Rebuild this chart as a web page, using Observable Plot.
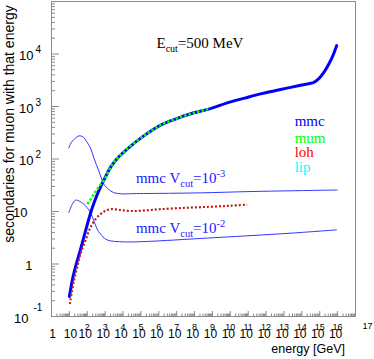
<!DOCTYPE html>
<html><head><meta charset="utf-8">
<script src="https://cdn.jsdelivr.net/npm/d3@7"></script>
<script src="https://cdn.jsdelivr.net/npm/@observablehq/plot@0.6"></script>
<style>html,body{margin:0;padding:0;background:#fff}svg{display:block}</style>
</head><body><div id="chart"></div>
<script>
// ---- data: log10(energy / GeV) and log10(number of secondaries) ----
const mmcLogE = [1.0, 1.2, 1.34, 1.6, 1.81, 2.0, 2.28, 2.6, 2.93, 3.3, 3.7, 4.23, 5.16, 6.1, 7.0, 7.96, 8.89, 9.83, 10.8, 11.69, 12.5, 13.3, 14.0, 14.67, 14.95, 15.23, 15.51, 15.75, 15.95];
const mmcLogN = [-0.62, -0.25, -0.06, 0.25, 0.51, 0.75, 1.07, 1.36, 1.6, 1.84, 2.02, 2.19, 2.44, 2.645, 2.77, 2.88, 2.96, 3.07, 3.16, 3.24, 3.3, 3.36, 3.41, 3.46, 3.53, 3.65, 3.81, 3.98, 4.16];
const mumLogE = [2.0, 2.18, 2.37, 2.55, 2.74, 2.93, 3.3, 3.7, 4.23, 5.16, 6.1, 7.0, 7.96, 8.89];
const mumLogN = [1.14, 1.23, 1.33, 1.42, 1.51, 1.59, 1.84, 2.02, 2.19, 2.44, 2.645, 2.77, 2.88, 2.96];
const lohLogE = [1.02, 1.25, 1.45, 1.62, 1.9, 2.18, 2.5, 2.74, 3.0, 3.3, 3.8, 4.43, 5.2, 6.1, 7.5, 8.89, 10.0, 10.94];
const lohLogN = [-0.76, -0.32, -0.04, 0.19, 0.45, 0.70, 0.87, 0.95, 1.01, 1.045, 1.03, 1.01, 1.02, 1.045, 1.07, 1.09, 1.11, 1.13];
const lipLogE = [1.02, 1.25, 1.45, 1.62, 1.9, 2.18, 2.5, 2.74, 3.0, 3.3, 3.8, 4.43, 5.2, 6.1, 7.5, 8.89, 10.0, 10.94];
const lipLogN = [-0.80, -0.35, -0.06, 0.17, 0.44, 0.69, 0.87, 0.95, 1.01, 1.04, 1.03, 1.01, 1.02, 1.045, 1.07, 1.09, 1.11, 1.13];
const v3LogE = [0.97, 1.1, 1.25, 1.45, 1.62, 1.8, 1.95, 2.18, 2.37, 2.65, 2.93, 3.2, 3.48, 4.0, 4.43, 6.0, 8.33, 11.1, 13.5, 15.98];
const v3LogN = [2.21, 2.31, 2.37, 2.43, 2.44, 2.41, 2.34, 2.21, 2.02, 1.77, 1.52, 1.42, 1.36, 1.335, 1.34, 1.345, 1.355, 1.38, 1.395, 1.41];
const v2LogE = [0.97, 1.15, 1.34, 1.55, 1.81, 2.0, 2.18, 2.37, 2.55, 2.74, 3.02, 3.3, 3.8, 4.43, 6.0, 8.0, 11.1, 13.5, 15.94];
const v2LogN = [0.98, 1.13, 1.215, 1.2, 1.14, 1.07, 0.98, 0.82, 0.665, 0.57, 0.475, 0.44, 0.425, 0.42, 0.44, 0.48, 0.54, 0.59, 0.65];

const legendNames = ["mmc", "mum", "loh", "lip"];
const legendColors = ["#0000ff", "#00ff00", "#ff0000", "#00ffff"];

const xTickValues = [1,1e1,1e2,1e3,1e4,1e5,1e6,1e7,1e8,1e9,1e10,1e11,1e12,1e13,1e14,1e15,1e16,1e17];
const xTickLabels = ["1","10","10^2","10^3","10^4","10^5","10^6","10^7","10^8","10^9","10^10","10^11","10^12","10^13","10^14","10^15","10^16","^17"];
const yTickValues = [0.1,1,10,100,1e3,1e4,1e5];
const yTickLabels = ["10^-1","1","10","10^2","10^3","10^4",""];

const xTitle = "energy [GeV]";
const yTitle = "secondaries for muon with that energy";

// ---- build ----
const toPts = (le, ln) => le.map((e, i) => ({E: 10 ** e, N: 10 ** ln[i]}));
const mmc = toPts(mmcLogE, mmcLogN), mum = toPts(mumLogE, mumLogN);
const loh = toPts(lohLogE, lohLogN), lip = toPts(lipLogE, lipLogN);
const v3 = toPts(v3LogE, v3LogN), v2 = toPts(v2LogE, v2LogN);

const W = 374, H = 359, mL = 51, mR = 19, mT = 1, mB = 43;
const plotH = H - mT - mB, plotW = W - mL - mR;

const minorOf = (majors) => majors.slice(0, -1).flatMap(m => [2,3,4,5,6,7,8,9].map(k => k * m));
const xMinor = minorOf(xTickValues), yMinor = minorOf(yTickValues);

const xLab = xTickValues.map((v, i) => {
  const [base, exp] = xTickLabels[i].split("^");
  return {v, base, exp: exp || ""};
});
const yLab = yTickValues.map((v, i) => {
  const [base, exp] = yTickLabels[i].split("^");
  return {v, base, exp: exp || ""};
});

const sans = "Liberation Sans, Arial, Helvetica, sans-serif";
const serif = "Liberation Serif, Times New Roman, serif";
const axisCol = "#8a8a8a";

const plot = Plot.plot({
  width: W, height: H,
  marginLeft: mL, marginRight: mR, marginTop: mT, marginBottom: mB,
  x: {type: "log", domain: [1, 1e17], axis: null},
  y: {type: "log", domain: [0.1, 1e5], axis: null},
  style: {background: "#fff", fontFamily: sans, overflow: "visible"},
  marks: [
    // ticks (inside the frame)
    Plot.ruleX(xMinor, {x: d => d, stroke: axisCol, insetTop: plotH - 2.5}),
    Plot.ruleX(xTickValues, {x: d => d, stroke: axisCol, insetTop: plotH - 5}),
    Plot.ruleY(yMinor, {y: d => d, stroke: axisCol, insetRight: plotW - 4}),
    Plot.ruleY(yTickValues, {y: d => d, stroke: axisCol, insetRight: plotW - 8}),
    Plot.frame({stroke: axisCol}),
    // x tick labels
    Plot.text(xLab.filter(d => d.base && !d.exp), {x: "v", text: "base", frameAnchor: "bottom", lineAnchor: "bottom", dy: 21, dx: 1, fontSize: 12, fill: "#000"}),
    Plot.text(xLab.filter(d => d.base && d.exp), {x: "v", text: "base", frameAnchor: "bottom", lineAnchor: "bottom", dy: 21, dx: -2, fontSize: 12, fill: "#000"}),
    Plot.text(xLab.filter(d => d.base && d.exp), {x: "v", text: "exp", frameAnchor: "bottom", lineAnchor: "bottom", dy: 13, dx: 0, fontSize: 9, fill: "#000"}),
    Plot.text(xLab.filter(d => !d.base && d.exp), {x: "v", text: "exp", frameAnchor: "bottom", lineAnchor: "bottom", dy: 12, dx: 12, fontSize: 9, fill: "#000"}),
    // y tick labels
    Plot.text(yLab.filter(d => d.exp && d.exp !== "-1"), {y: "v", text: "base", frameAnchor: "left", textAnchor: "end", lineAnchor: "bottom", dx: -18, dy: 6, fontSize: 13, fill: "#000"}),
    Plot.text(yLab.filter(d => d.exp && d.exp !== "-1"), {y: "v", text: "exp", frameAnchor: "left", textAnchor: "start", lineAnchor: "bottom", dx: -16, dy: -1, fontSize: 10, fill: "#000"}),
    Plot.text(yLab.filter(d => d.exp === "-1"), {y: "v", text: "base", frameAnchor: "left", textAnchor: "end", lineAnchor: "bottom", dx: -23, dy: 6, fontSize: 13, fill: "#000"}),
    Plot.text(yLab.filter(d => d.exp === "-1"), {y: "v", text: "exp", frameAnchor: "left", textAnchor: "start", lineAnchor: "bottom", dx: -18, dy: -6, fontSize: 10, fill: "#000"}),
    Plot.text(yLab.filter(d => d.base === "10" && !d.exp), {y: "v", text: "base", frameAnchor: "left", textAnchor: "end", lineAnchor: "bottom", dx: -24, dy: 5, fontSize: 13, fill: "#000"}),
    Plot.text(yLab.filter(d => d.base === "1"), {y: "v", text: "base", frameAnchor: "left", textAnchor: "end", lineAnchor: "bottom", dx: -19, dy: 5.5, fontSize: 13, fill: "#000"}),
    // curves
    Plot.line(v3, {x: "E", y: "N", stroke: "#3535ff", strokeWidth: 1, curve: "catmull-rom"}),
    Plot.line(v2, {x: "E", y: "N", stroke: "#3535ff", strokeWidth: 1, curve: "catmull-rom"}),
    Plot.line(mmc, {x: "E", y: "N", stroke: legendColors[0], strokeWidth: 3, curve: "catmull-rom"}),
    Plot.line(mum, {x: "E", y: "N", stroke: legendColors[1], strokeWidth: 2.5, strokeDasharray: "2.5 2", strokeLinecap: "butt", curve: "catmull-rom"}),
    Plot.line(lip, {x: "E", y: "N", stroke: legendColors[3], strokeWidth: 2, strokeDasharray: "1.8 2.2", strokeDashoffset: 2, strokeLinecap: "butt", curve: "catmull-rom"}),
    Plot.line(loh, {x: "E", y: "N", stroke: legendColors[2], strokeWidth: 2, strokeDasharray: "2 2", strokeLinecap: "butt", curve: "catmull-rom"}),
    // legend
    Plot.text(legendNames, {x: 10 ** 13.6, y: (d, i) => 10 ** [2.638, 2.314, 2.029, 1.743][i], text: d => d, fill: (d, i) => legendColors[i], textAnchor: "start", lineAnchor: "bottom", fontSize: 15, fontFamily: serif})
  ]
});

const svg = d3.select(plot);
const sx = plot.scale("x"), sy = plot.scale("y");

function rich(x, y, parts, color, size) {
  const t = svg.append("text").attr("x", sx.apply(x)).attr("y", sy.apply(y))
    .attr("text-anchor", "start")
    .attr("font-family", serif).attr("font-size", size).attr("fill", color);
  for (const p of parts) {
    t.append("tspan").text(p.t).attr("font-size", p.s || size).attr("dy", p.dy || 0);
  }
}
rich(10 ** 5.9, 10 ** 4.1, [{t: "E"}, {t: "cut", s: 10, dy: 4}, {t: "=500 MeV", dy: -4}], "#000", 15);
rich(10 ** 4.75, 10 ** 1.53, [{t: "mmc V"}, {t: "cut", s: 10.5, dy: 4}, {t: "=10", dy: -4}, {t: "-3", s: 10.5, dy: -6}], "#1a1aff", 15);
rich(10 ** 4.75, 10 ** 0.58, [{t: "mmc V"}, {t: "cut", s: 10.5, dy: 4}, {t: "=10", dy: -4}, {t: "-2", s: 10.5, dy: -6}], "#1a1aff", 15);

svg.append("text").attr("transform", "translate(13.5,124) rotate(-90)")
  .attr("text-anchor", "middle").attr("font-family", sans).attr("font-size", 14).attr("fill", "#000").text(yTitle);
svg.append("text").attr("x", 345).attr("y", 353).attr("text-anchor", "end")
  .attr("font-family", sans).attr("font-size", 12.5).attr("fill", "#000").text(xTitle);

document.getElementById("chart").append(plot);
</script>
</body></html>
